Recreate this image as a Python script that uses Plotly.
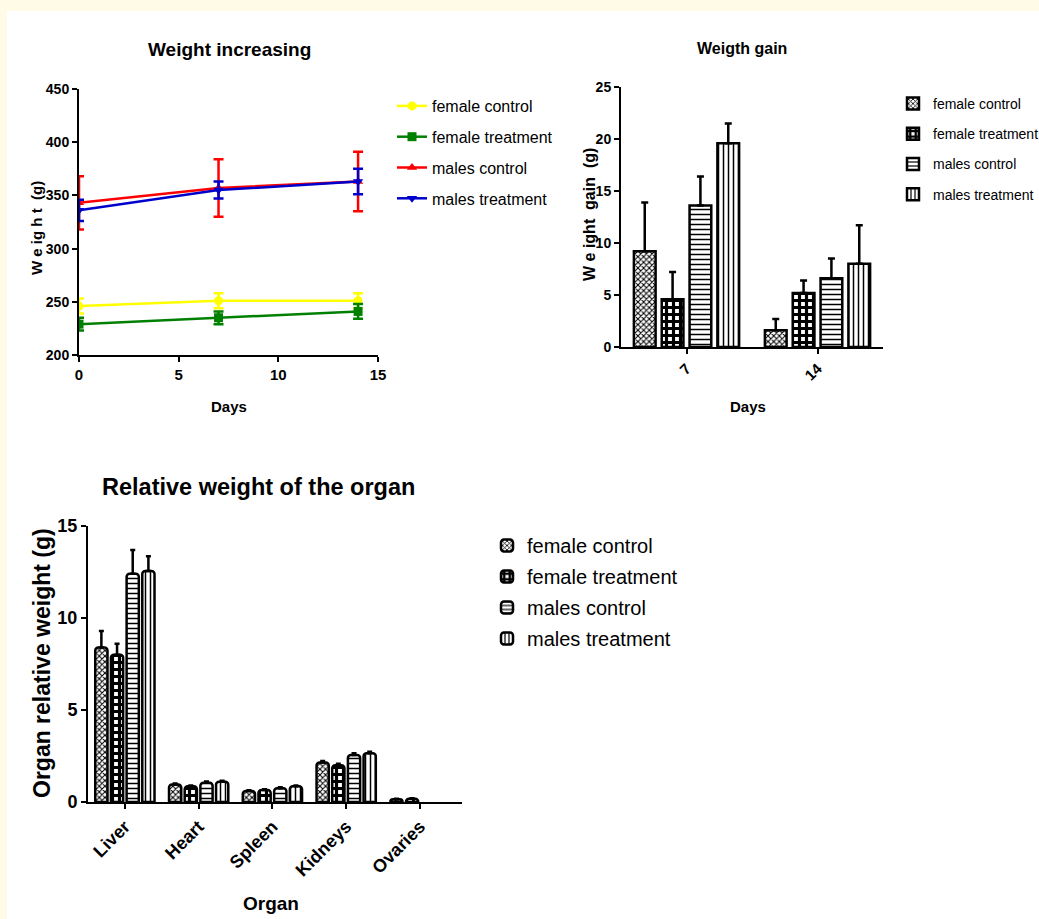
import plotly.graph_objects as go

W, H = 1039, 919

# ---------------- data ----------------
series_names = ["female control", "female treatment", "males control", "males treatment"]

days = [0, 7, 14]
wt_female_control = [246, 251, 251]
wt_female_control_err = [7, 7, 7]
wt_female_treatment = [229, 235, 241]
wt_female_treatment_err = [6, 6, 7]
wt_males_control = [343, 357, 363]
wt_males_control_err = [25, 27, 28]
wt_males_treatment = [336, 355, 363]
wt_males_treatment_err = [10, 8, 12]

gain_days = ["7", "14"]
gain_female_control = [9.2, 1.6]
gain_female_control_err = [4.7, 1.1]
gain_female_treatment = [4.6, 5.2]
gain_female_treatment_err = [2.6, 1.2]
gain_males_control = [13.6, 6.6]
gain_males_control_err = [2.8, 1.9]
gain_males_treatment = [19.6, 8.0]
gain_males_treatment_err = [1.9, 3.7]

organs = ["Liver", "Heart", "Spleen", "Kidneys", "Ovaries"]
org_female_control = [8.4, 0.95, 0.6, 2.15, 0.15]
org_female_control_err = [0.9, 0.05, 0.04, 0.08, 0.02]
org_female_treatment = [8.0, 0.85, 0.65, 2.0, 0.18]
org_female_treatment_err = [0.6, 0.05, 0.04, 0.08, 0.02]
org_males_control = [12.4, 1.05, 0.75, 2.55, None]
org_males_control_err = [1.3, 0.06, 0.05, 0.1, 0]
org_males_treatment = [12.55, 1.1, 0.85, 2.65, None]
org_males_treatment_err = [0.8, 0.06, 0.05, 0.08, 0]

# ---------------- styles ----------------
FONT = "Liberation Sans, Arial, sans-serif"
CREAM = "#fffbe6"
line_colors = ["#ffff00", "#008000", "#ff0000", "#0000cc"]
line_symbols = ["circle", "square", "triangle-up", "triangle-down"]
patterns = [
    dict(shape="x", size=4, solidity=0.45),
    dict(shape="+", size=7, solidity=0.7),
    dict(shape="-", size=5, solidity=0.3),
    dict(shape="|", size=5, solidity=0.3),
]


def px_x(p):
    return p / W


def px_y(p):
    return 1 - p / H


fig = go.Figure()

# ---- chart 1: weight increasing ----
wt_vals = [wt_female_control, wt_female_treatment, wt_males_control, wt_males_treatment]
wt_errs = [wt_female_control_err, wt_female_treatment_err, wt_males_control_err, wt_males_treatment_err]
for i, name in enumerate(series_names):
    fig.add_trace(go.Scatter(
        x=days, y=wt_vals[i], name=name, mode="lines+markers",
        line=dict(color=line_colors[i], width=2.5),
        marker=dict(symbol=line_symbols[i], size=9, color=line_colors[i]),
        error_y=dict(type="data", array=wt_errs[i], color=line_colors[i], thickness=2.5, width=5),
        xaxis="x", yaxis="y", legend="legend", legendgroup="a%d" % i,
    ))

# ---- chart 2: weight gain ----
gain_vals = [gain_female_control, gain_female_treatment, gain_males_control, gain_males_treatment]
gain_errs = [gain_female_control_err, gain_female_treatment_err, gain_males_control_err, gain_males_treatment_err]
for i, name in enumerate(series_names):
    fig.add_trace(go.Bar(
        x=gain_days, y=gain_vals[i], name=name,
        marker=dict(color="white", line=dict(color="black", width=2.5),
                    pattern=dict(fgcolor="black", bgcolor="white", fillmode="replace", **patterns[i])),
        error_y=dict(type="data", symmetric=False, array=gain_errs[i], arrayminus=[0] * len(gain_errs[i]),
                     color="black", thickness=2.5, width=3.5),
        xaxis="x2", yaxis="y2", legend="legend2", legendgroup="b%d" % i,
    ))

# ---- chart 3: organ relative weight ----
org_vals = [org_female_control, org_female_treatment, org_males_control, org_males_treatment]
org_errs = [org_female_control_err, org_female_treatment_err, org_males_control_err, org_males_treatment_err]
for i, name in enumerate(series_names):
    fig.add_trace(go.Bar(
        x=organs, y=org_vals[i], name=name,
        marker=dict(color="white", line=dict(color="black", width=2.5), cornerradius=3,
                    pattern=dict(fgcolor="black", bgcolor="white", fillmode="replace", **patterns[i])),
        error_y=dict(type="data", symmetric=False, array=org_errs[i], arrayminus=[0] * len(org_errs[i]),
                     color="black", thickness=2.5, width=2.5),
        xaxis="x3", yaxis="y3", legend="legend3", legendgroup="c%d" % i,
    ))

axis_common = dict(showline=True, linecolor="black", linewidth=2, ticks="outside", ticklen=5,
                   tickwidth=2, tickcolor="black", showgrid=False, zeroline=False, fixedrange=True,
                   automargin=False)
bold15 = dict(family=FONT, size=15, color="black", weight="bold")
bold14 = dict(family=FONT, size=14, color="black", weight="bold")

fig.update_layout(
    width=W, height=H, autosize=False,
    margin=dict(l=0, r=0, t=0, b=0, pad=0, autoexpand=False),
    paper_bgcolor=CREAM, plot_bgcolor="rgba(0,0,0,0)",
    showlegend=True,
    barmode="group",
    bargap=0.15, bargroupgap=0.22,
    xaxis=dict(domain=[px_x(79), px_x(378)], range=[0, 15], tickvals=[0, 5, 10, 15], anchor="y",
               tickfont=bold15, **axis_common),
    yaxis=dict(domain=[px_y(355), px_y(89)], range=[200, 450], tickvals=[200, 250, 300, 350, 400, 450],
               anchor="x", tickfont=bold14, **axis_common),
    xaxis2=dict(domain=[px_x(621), px_x(883)], range=[-0.5, 1.5], type="category", anchor="y2",
                tickangle=-45, tickfont=bold15, **axis_common),
    yaxis2=dict(domain=[px_y(347), px_y(87)], range=[0, 25], tickvals=[0, 5, 10, 15, 20, 25], anchor="x2",
                tickfont=bold14, **axis_common),
    xaxis3=dict(domain=[px_x(88), px_x(462)], range=[-0.5, 4.57], type="category", anchor="y3",
                tickangle=-45, tickfont=dict(family=FONT, size=18, color="black", weight="bold"),
                **axis_common),
    yaxis3=dict(domain=[px_y(802), px_y(526)], range=[0, 15], tickvals=[0, 5, 10, 15], anchor="x3",
                tickfont=dict(family=FONT, size=18, color="black", weight="bold"), **axis_common),
    legend=dict(x=px_x(392), y=px_y(89), xanchor="left", yanchor="top", bgcolor="rgba(0,0,0,0)",
                font=dict(family=FONT, size=16, color="black"), traceorder="grouped",
                tracegroupgap=7, itemwidth=30),
    legend2=dict(x=px_x(893), y=px_y(88), xanchor="left", yanchor="top", bgcolor="rgba(0,0,0,0)",
                 font=dict(family=FONT, size=14, color="black"), traceorder="grouped",
                 tracegroupgap=9, itemwidth=30),
    legend3=dict(x=px_x(487), y=px_y(526), xanchor="left", yanchor="top", bgcolor="rgba(0,0,0,0)",
                 font=dict(family=FONT, size=20, color="black"), traceorder="grouped",
                 tracegroupgap=2, itemwidth=30),
    shapes=[dict(type="rect", xref="paper", yref="paper", x0=px_x(7), x1=1.0, y0=0.0, y1=px_y(11),
                 fillcolor="white", line=dict(width=0), layer="below")],
)

ann = [
    dict(text="<b>Weight increasing</b>", x=px_x(229), y=px_y(50), font=dict(family=FONT, size=19)),
    dict(text="<b>Days</b>", x=px_x(229), y=px_y(406), font=dict(family=FONT, size=15)),
    dict(text="<b>W e ig h t  (g)</b>", x=px_x(36), y=px_y(228), textangle=-90, font=dict(family=FONT, size=15)),
    dict(text="<b>Weigth gain</b>", x=px_x(742), y=px_y(48), font=dict(family=FONT, size=16)),
    dict(text="<b>Days</b>", x=px_x(748), y=px_y(406), font=dict(family=FONT, size=15)),
    dict(text="<b>W e ight&nbsp; gain&nbsp; (g)</b>", x=px_x(589), y=px_y(215), textangle=-90,
         font=dict(family=FONT, size=16)),
    dict(text="<b>Relative weight of the organ</b>", x=px_x(258), y=px_y(487), font=dict(family=FONT, size=23.5)),
    dict(text="<b>Organ</b>", x=px_x(271), y=px_y(903), font=dict(family=FONT, size=19)),
    dict(text="<b>Organ relative weight (g)</b>", x=px_x(42), y=px_y(663), textangle=-90, font=dict(family=FONT, size=23)),
]
for a in ann:
    a.update(xref="paper", yref="paper", showarrow=False, xanchor="center", yanchor="middle")
    a["font"]["color"] = "black"
fig.update_layout(annotations=ann)

post = (
    "document.documentElement.style.margin='0';document.documentElement.style.overflow='hidden';"
    "document.body.style.margin='0';document.body.style.padding='0';"
    "document.body.style.overflow='hidden';document.body.style.background='%s';"
    "var gd=document.getElementById('{plot_id}');"
    "gd.style.position='fixed';gd.style.left='0px';gd.style.top='0px';" % CREAM
)
fig.write_html("out.html", post_script=post, config={"displayModeBar": False, "staticPlot": True})
